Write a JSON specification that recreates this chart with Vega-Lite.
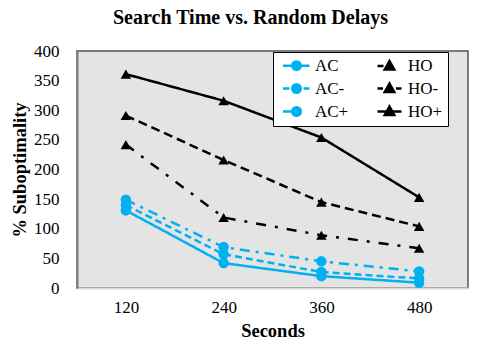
{
  "$schema": "https://vega.github.io/schema/vega-lite/v6.json",
  "width": 391,
  "height": 237,
  "autosize": {"type": "none"},
  "padding": {"left": 77, "top": 51, "right": 32, "bottom": 64},
  "background": "white",
  "title": {
    "text": "Search Time vs. Random Delays",
    "font": "Liberation Serif",
    "fontSize": 20,
    "fontWeight": "bold",
    "color": "black",
    "anchor": "middle",
    "dx": -22,
    "offset": 14
  },
  "config": {
    "font": "Liberation Serif",
    "view": {"fill": "#e4e4e4", "stroke": "#555555", "strokeWidth": 1.5},
    "axis": {
      "labelFont": "Liberation Serif",
      "labelFontSize": 17,
      "labelColor": "black",
      "titleFont": "Liberation Serif",
      "titleFontSize": 18.5,
      "titleFontWeight": "bold",
      "titleColor": "black",
      "grid": false,
      "ticks": false
    },
    "legend": {
      "labelFont": "Liberation Serif",
      "labelFontSize": 17,
      "labelColor": "black"
    }
  },
  "data": {
    "values": [
      {"sec": 120, "series": "AC", "value": 131},
      {"sec": 240, "series": "AC", "value": 42},
      {"sec": 360, "series": "AC", "value": 20},
      {"sec": 480, "series": "AC", "value": 9},
      {"sec": 120, "series": "AC-", "value": 140},
      {"sec": 240, "series": "AC-", "value": 57},
      {"sec": 360, "series": "AC-", "value": 27},
      {"sec": 480, "series": "AC-", "value": 16},
      {"sec": 120, "series": "AC+", "value": 149},
      {"sec": 240, "series": "AC+", "value": 69},
      {"sec": 360, "series": "AC+", "value": 45},
      {"sec": 480, "series": "AC+", "value": 28},
      {"sec": 120, "series": "HO", "value": 242},
      {"sec": 240, "series": "HO", "value": 119},
      {"sec": 360, "series": "HO", "value": 89},
      {"sec": 480, "series": "HO", "value": 67},
      {"sec": 120, "series": "HO-", "value": 291},
      {"sec": 240, "series": "HO-", "value": 216},
      {"sec": 360, "series": "HO-", "value": 145},
      {"sec": 480, "series": "HO-", "value": 104},
      {"sec": 120, "series": "HO+", "value": 361},
      {"sec": 240, "series": "HO+", "value": 316},
      {"sec": 360, "series": "HO+", "value": 254},
      {"sec": 480, "series": "HO+", "value": 153}
    ]
  },
  "encoding": {
    "x": {
      "field": "sec",
      "type": "ordinal",
      "scale": {"type": "point", "padding": 0.5},
      "axis": {"title": "Seconds", "labelAngle": 0, "labelPadding": 11, "titlePadding": 6, "domainColor": "#d9d9d9", "domainWidth": 2}
    },
    "y": {
      "field": "value",
      "type": "quantitative",
      "scale": {"domain": [0, 400], "nice": false},
      "axis": {"title": "% Suboptimality", "values": [0, 50, 100, 150, 200, 250, 300, 350, 400], "labelPadding": 18, "titlePadding": 4, "domainColor": "#808080", "domainWidth": 2}
    }
  },
  "layer": [
    {
      "transform": [{"filter": "indexof(datum.series, 'AC') == 0"}],
      "mark": {"type": "line", "color": "#00b0f0", "strokeWidth": 2.5},
      "encoding": {
        "strokeDash": {
          "field": "series",
          "type": "nominal",
          "scale": {"domain": ["AC", "AC-", "AC+", "HO", "HO-", "HO+"], "range": [[1, 0], [7, 4], [10, 6, 3, 6], [10, 9, 3, 9], [9, 5], [1, 0]]},
          "legend": null
        }
      }
    },
    {
      "transform": [{"filter": "indexof(datum.series, 'HO') == 0"}],
      "mark": {"type": "line", "color": "black", "strokeWidth": 2.5},
      "encoding": {
        "strokeDash": {"field": "series", "type": "nominal", "legend": null}
      }
    },
    {
      "transform": [{"filter": "indexof(datum.series, 'AC') == 0"}],
      "mark": {"type": "point", "shape": "circle", "filled": true, "color": "#00b0f0", "size": 110, "opacity": 1}
    },
    {
      "transform": [{"filter": "indexof(datum.series, 'HO') == 0"}],
      "mark": {"type": "point", "shape": "triangle-up", "filled": true, "color": "black", "size": 110, "opacity": 1}
    },
    {
      "transform": [{"filter": "datum.value < 0"}],
      "mark": {"type": "point", "filled": true, "opacity": 1, "size": 121, "strokeWidth": 2.5},
      "encoding": {
        "shape": {
          "field": "series",
          "type": "nominal",
          "scale": {
            "domain": ["AC", "HO", "AC-", "HO-", "AC+", "HO+"],
            "range": [
              "M-2.7,0H2.6M0.85,0A0.85,0.85 0 1,1 -0.85,0A0.85,0.85 0 1,1 0.85,0Z",
              "M-2.4,0H-1.2M0,-1L0.95,0.7L-0.95,0.7Z",
              "M-2.7,0H-1.4M1.4,0H2.6M0.85,0A0.85,0.85 0 1,1 -0.85,0A0.85,0.85 0 1,1 0.85,0Z",
              "M-2.4,0H-1.3M1.3,0H2.4M0,-1L0.95,0.7L-0.95,0.7Z",
              "M-2.7,0H-1M0.85,0A0.85,0.85 0 1,1 -0.85,0A0.85,0.85 0 1,1 0.85,0Z",
              "M-2.4,0H2.4M0,-1L0.95,0.7L-0.95,0.7Z"
            ]
          },
          "legend": {
            "title": null,
            "orient": "none",
            "legendX": 196,
            "legendY": 1,
            "columns": 2,
            "direction": "horizontal",
            "fillColor": "white",
            "strokeColor": "black",
            "padding": 5,
            "symbolOffset": 10,
            "labelOffset": 10,
            "columnPadding": 22,
            "rowPadding": 3,
            "symbolStrokeWidth": 2.5,
            "symbolOpacity": 1
          }
        },
        "fill": {
          "field": "series",
          "type": "nominal",
          "scale": {"domain": ["AC", "HO", "AC-", "HO-", "AC+", "HO+"], "range": ["#00b0f0", "black", "#00b0f0", "black", "#00b0f0", "black"]}
        },
        "stroke": {
          "field": "series",
          "type": "nominal",
          "scale": {"domain": ["AC", "HO", "AC-", "HO-", "AC+", "HO+"], "range": ["#00b0f0", "black", "#00b0f0", "black", "#00b0f0", "black"]}
        }
      }
    }
  ]
}
